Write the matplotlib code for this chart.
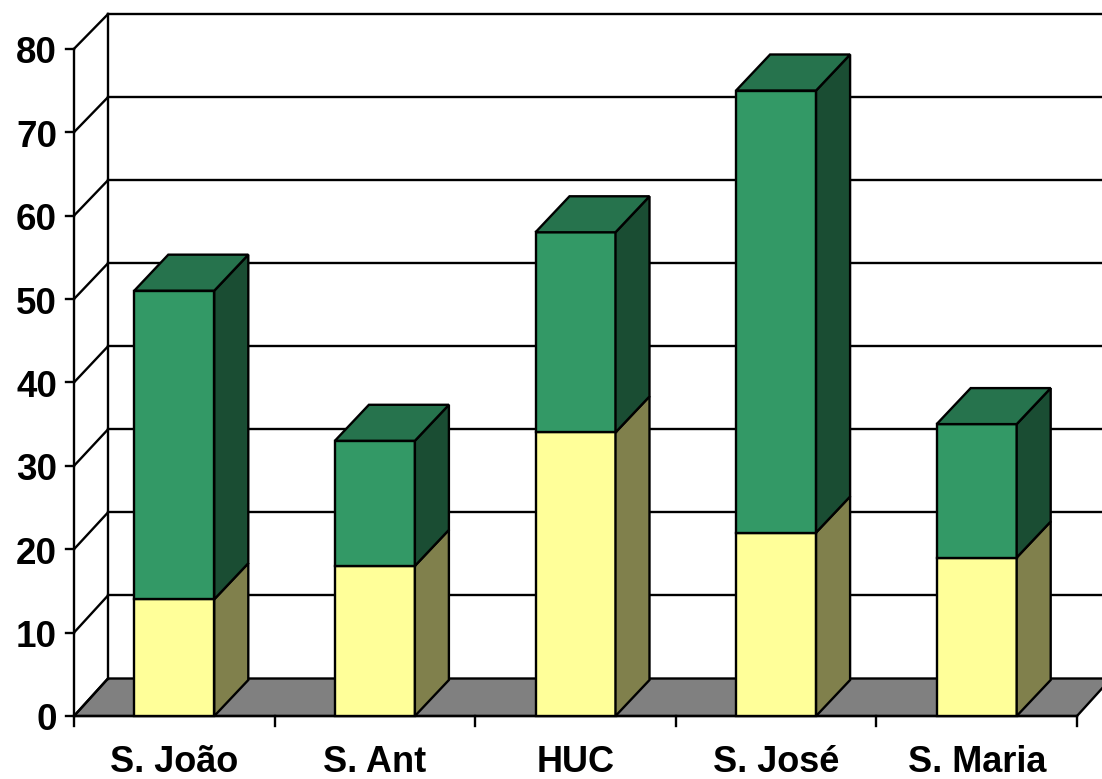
import matplotlib
matplotlib.use("Agg")
import matplotlib.pyplot as plt
from matplotlib.patches import Polygon

plt.rcParams['font.family'] = ['Liberation Sans', 'DejaVu Sans']

# dados
hospitais = ["S. João", "S. Ant", "HUC", "S. José", "S. Maria"]
amarelo = [14, 18, 34, 22, 19]
verde = [37, 15, 24, 53, 16]
ticks_y = [0, 10, 20, 30, 40, 50, 60, 70, 80]

# escala: pixeis por unidade
px_x = 200.6
px_y = 8.34
x0_px = 74
y0_px = 716
dx = 34 / px_x   # profundidade 3d
dy = 36 / px_y
dy_fundo = 37.5 / px_y
k_fundo = 0.9958   # a parede de tras fica um pouco mais baixa
larg = 80 / px_x

fig = plt.figure(figsize=(11.02, 7.79), dpi=100)
ax = fig.add_axes([0, 0, 1, 1])
ax.set_xlim(-x0_px / px_x, (1102 - x0_px) / px_x)
ax.set_ylim(-(779 - y0_px) / px_y, y0_px / px_y)
ax.axis("off")

lw = 1.7

# chao
ax.add_patch(Polygon([(0, 0), (dx, dy_fundo), (5 + dx, dy_fundo), (5, 0)], fc="#808080", ec="black", lw=lw, zorder=1))

# paredes e grelha
topo_fundo = 80 * k_fundo + dy_fundo
ax.plot([dx, dx], [dy_fundo, topo_fundo], color="black", lw=lw, zorder=2)
ax.plot([0, 0], [0, 80], color="black", lw=lw, zorder=2)
for t in ticks_y:
    yf = t * k_fundo + dy_fundo
    ax.plot([0, dx], [t, yf], color="black", lw=lw, zorder=2)
    if t > 0:
        ax.plot([dx, 5 + dx], [yf, yf], color="black", lw=lw, zorder=2)
    ax.plot([-8 / px_x, 0], [t, t], color="black", lw=lw, zorder=2)
    ax.text(-17 / px_x, t - 5 / px_y, str(t), ha="right", va="center", fontsize=26.5, fontweight="bold", zorder=5)

# eixo x
ax.plot([0, 5], [0, 0], color="black", lw=lw, zorder=2)
for i in range(6):
    ax.plot([i, i], [0, -10 / px_y], color="black", lw=lw, zorder=2)


def barra(xc, base, altura, frente, lado, topo=None):
    e = xc - larg / 2
    d = xc + larg / 2
    t = base + altura
    ax.add_patch(Polygon([(e, base), (d, base), (d, t), (e, t)], fc=frente, ec="black", lw=lw, zorder=3))
    ax.add_patch(Polygon([(d, base), (d + dx, base + dy), (d + dx, t + dy), (d, t)], fc=lado, ec="black", lw=lw, zorder=3))
    if topo:
        ax.add_patch(Polygon([(e, t), (e + dx, t + dy), (d + dx, t + dy), (d, t)], fc=topo, ec="black", lw=lw, zorder=3))


for i, nome in enumerate(hospitais):
    xc = i + 0.5
    barra(xc, 0, amarelo[i], "#FFFF99", "#80804C")
    barra(xc, amarelo[i], verde[i], "#339966", "#1A4D33", "#26734D")
    ax.text(xc, -46 / px_y, nome, ha="center", va="center", fontsize=26, fontweight="bold", zorder=5)

fig.savefig("out.png", dpi=100)
